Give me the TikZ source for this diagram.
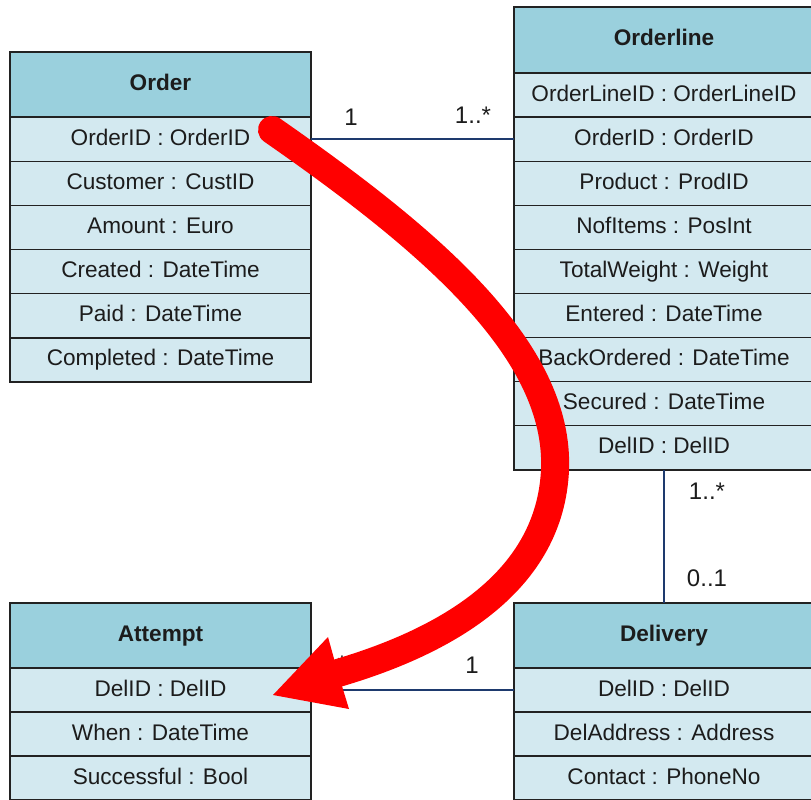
\documentclass[tikz,border=0pt]{standalone}
\usepackage{fontspec}
\setmainfont{Liberation Sans}
\definecolor{hdr}{HTML}{9AD0DD}
\definecolor{rowc}{HTML}{D3E9F0}
\definecolor{navy}{HTML}{1E3A6E}
\definecolor{edge}{HTML}{222222}
\definecolor{ink}{HTML}{1C1C1C}
\definecolor{hilite}{HTML}{FF0000}
\begin{document}
\begin{tikzpicture}[x=1pt,y=-1pt,
  cell/.style={draw=edge, line width=1.3pt, inner sep=0pt, outer sep=0pt,
    text=ink, anchor=north west, text height=16.5pt, text depth=4.5pt,
    font=\fontsize{22.6}{27}\selectfont},
  headcell/.style={cell, fill=hdr, font=\fontsize{22.6}{27}\selectfont\bfseries},
  attrcell/.style={cell, fill=rowc},
  leftcol/.style={minimum width=301pt},
  rightcol/.style={minimum width=300pt},
  assoc/.style={draw=navy, line width=2.6pt},
  mult/.style={text=ink, inner sep=0pt, font=\fontsize{24}{28}\selectfont},
  marker/.style={draw=hilite, line width=28pt}]
\useasboundingbox (0,0) rectangle (811,800);
\fill[white] (0,0) rectangle (811,800);

% Order
\node[headcell, leftcol, minimum height=65pt] (oh) at (10,52) {Order};
\foreach \t [count=\i] in {OrderID : OrderID, Customer : CustID, Amount : Euro,
    Created : DateTime, Paid : DateTime, Completed : DateTime}
  \node[attrcell, leftcol, minimum height=44.17pt] (o\i) at (10,{117+(\i-1)*44.17}) {\t};

% Orderline
\node[headcell, rightcol, minimum height=66pt] (lh) at (514,7) {Orderline};
\foreach \t [count=\i] in {OrderLineID : OrderLineID, OrderID : OrderID, Product : ProdID,
    NofItems : PosInt, TotalWeight : Weight, Entered : DateTime,
    BackOrdered : DateTime, Secured : DateTime, DelID : DelID}
  \node[attrcell, rightcol, minimum height=44.1pt] (l\i) at (514,{73+(\i-1)*44.1}) {\t};

% Attempt
\node[headcell, leftcol, minimum height=65pt] (ah) at (10,603) {Attempt};
\foreach \t [count=\i] in {DelID : DelID, When : DateTime, Successful : Bool}
  \node[attrcell, leftcol, minimum height=44pt] (a\i) at (10,{668+(\i-1)*44}) {\t};

% Delivery
\node[headcell, rightcol, minimum height=65pt] (dh) at (514,603) {Delivery};
\foreach \t [count=\i] in {DelID : DelID, DelAddress : Address, Contact : PhoneNo}
  \node[attrcell, rightcol, minimum height=44pt] (d\i) at (514,{668+(\i-1)*44}) {\t};

% associations
\draw[assoc] (o1.east) -- (o1.east -| l2.west);
\draw[assoc] (l9.south) -- (dh.north);
\draw[assoc] (a1.east) -- (a1.east -| d1.west);

% multiplicities
\node[mult] (m1) at (351,117) {1};
\node[mult] (m2) at (473,115) {1..*};
\node[mult] (m3) at (707,491) {1..*};
\node[mult] (m4) at (707,578) {0..1};
\node[mult] (m5) at (472,665) {1};
\node[mult] (m6) at (342,664) {*};

% highlighting arrow
\coordinate (s) at (272,130);
\coordinate (bend) at (555,470);
\coordinate (base) at (338,673);
\coordinate (tip) at (273,695);
\coordinate (barbA) at (328,637);
\coordinate (barbB) at (349,709);
\draw[marker, line cap=round] (s) .. controls (430,240) and (560,350) .. (bend)
  .. controls (550,580) and (450,640) .. (base);
\fill[hilite] (tip) -- (barbA) -- (base) -- (barbB) -- cycle;
\end{tikzpicture}
\end{document}
